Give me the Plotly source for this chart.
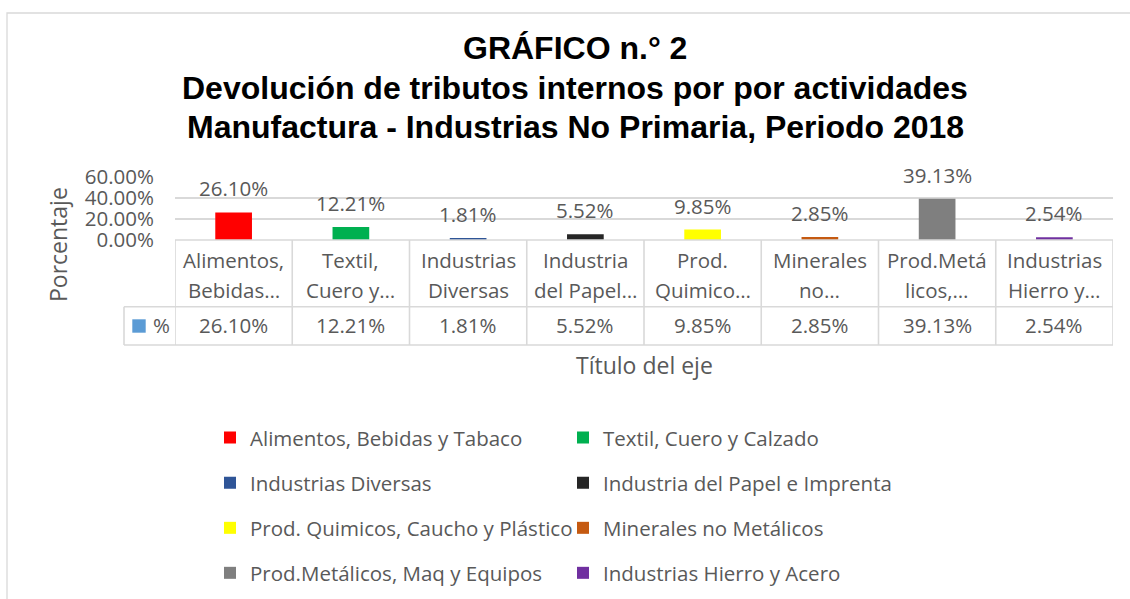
import plotly.graph_objects as go

# ---------------- data ----------------
categories = [
    "Alimentos, Bebidas y Tabaco",
    "Textil, Cuero y Calzado",
    "Industrias Diversas",
    "Industria del Papel e Imprenta",
    "Prod. Quimicos, Caucho y Plástico",
    "Minerales no Metálicos",
    "Prod.Metálicos, Maq y Equipos",
    "Industrias Hierro y Acero",
]
values = [26.10, 12.21, 1.81, 5.52, 9.85, 2.85, 39.13, 2.54]
colors = ["#FF0000", "#00B050", "#2F5597", "#262626", "#FFFF00", "#C55A11", "#7F7F7F", "#7030A0"]
table_line1 = ["Alimentos,", "Textil,", "Industrias", "Industria", "Prod.", "Minerales", "Prod.Metá", "Industrias"]
table_line2 = ["Bebidas…", "Cuero y…", "Diversas", "del Papel…", "Quimico…", "no…", "licos,…", "Hierro y…"]
series_name = "%"
y_ticks = [0, 20, 40, 60]
y_tick_labels = ["0.00%", "20.00%", "40.00%", "60.00%"]

title_lines = ["GRÁFICO n.° 2",
               "Devolución de tributos internos por por actividades",
               "Manufactura - Industrias No Primaria, Periodo 2018"]
x_title = "Título del eje"
y_title = "Porcentaje"

# ---------------- geometry helpers ----------------
W, H = 1130, 599
L, R = 175, 17
PW = W - L - R


def px(X):
    return (X - L) / PW


def py(Y):
    return (H - Y) / H


GRAY = "#595959"
LINE = "#D9D9D9"
FONT = "Open Sans, Noto Sans, sans-serif"
FS = 20.5

fig = go.Figure()
for i, (c, v, col) in enumerate(zip(categories, values, colors)):
    fig.add_trace(go.Bar(
        x=[c], y=[v], name=c, marker=dict(color=col, line=dict(width=0)),
        width=0.313, legend="legend" if i == 0 else f"legend{i + 1}",
        hoverinfo="skip",
    ))

annotations = []
# data labels above bars
for c, v in zip(categories, values):
    annotations.append(dict(x=c, y=v, xref="x", yref="y", text=f"{v:.2f}%", showarrow=False,
                            yanchor="middle", yshift=24, font=dict(family=FONT, size=FS, color=GRAY)))
# data table text
for c, l1, l2, v in zip(categories, table_line1, table_line2, values):
    annotations.append(dict(x=c, y=py(260), xref="x", yref="paper", text=l1, showarrow=False,
                            yanchor="middle", font=dict(family=FONT, size=FS, color=GRAY)))
    annotations.append(dict(x=c, y=py(290), xref="x", yref="paper", text=l2, showarrow=False,
                            yanchor="middle", font=dict(family=FONT, size=FS, color=GRAY)))
    annotations.append(dict(x=c, y=py(325), xref="x", yref="paper", text=f"{v:.2f}%", showarrow=False,
                            yanchor="middle", font=dict(family=FONT, size=FS, color=GRAY)))
annotations.append(dict(x=px(151), y=py(325), xref="paper", yref="paper", text=series_name, showarrow=False,
                        xanchor="left", yanchor="middle", font=dict(family=FONT, size=FS, color=GRAY)))
# title (one annotation per line)
for t, yy in zip(title_lines, [48, 88, 127]):
    annotations.append(dict(x=px(575), y=py(yy), xref="paper", yref="paper", text=f"<b>{t}</b>",
                            showarrow=False, xanchor="center", yanchor="middle",
                            font=dict(family="Liberation Sans, Arial, sans-serif", size=32, color="#000000")))
# axis titles
annotations.append(dict(x=px(644), y=py(365), xref="paper", yref="paper", text=x_title, showarrow=False,
                        xanchor="center", yanchor="middle", font=dict(family=FONT, size=23, color=GRAY)))
annotations.append(dict(x=px(58), y=py(245), xref="paper", yref="paper", text=y_title, showarrow=False,
                        textangle=-90, xanchor="center", yanchor="middle",
                        font=dict(family=FONT, size=23, color=GRAY)))

shapes = []
# chart frame
shapes.append(dict(type="rect", xref="paper", yref="paper", x0=px(7), x1=px(1150), y0=py(620), y1=py(13),
                   line=dict(color=LINE, width=1.3), fillcolor="rgba(0,0,0,0)", layer="below"))
# data table grid
n = len(categories)
tbl_top, tbl_mid, tbl_bot = 240, 306.7, 345
shapes.append(dict(type="line", xref="x", yref="paper", x0=-0.5, x1=n - 0.5, y0=py(tbl_top), y1=py(tbl_top),
                   line=dict(color=LINE, width=1.6)))
for yy in (tbl_mid, tbl_bot):
    shapes.append(dict(type="line", xref="paper", yref="paper", x0=px(124), x1=1.0, y0=py(yy), y1=py(yy),
                       line=dict(color=LINE, width=1.6)))
for k in range(n + 1):
    shapes.append(dict(type="line", xref="x", yref="paper", x0=k - 0.5, x1=k - 0.5, y0=py(tbl_top), y1=py(tbl_bot),
                       line=dict(color=LINE, width=1.6)))
shapes.append(dict(type="line", xref="paper", yref="paper", x0=px(124), x1=px(124), y0=py(tbl_mid), y1=py(tbl_bot),
                   line=dict(color=LINE, width=1.6)))
# series key in table
shapes.append(dict(type="rect", xref="paper", yref="paper", x0=px(132.3), x1=px(145.7), y0=py(332.7), y1=py(319.3),
                   fillcolor="#5B9BD5", line=dict(width=0)))

layout = dict(
    width=W, height=H,
    margin=dict(l=L, r=R, t=0, b=0, autoexpand=False),
    paper_bgcolor="white", plot_bgcolor="white",
    barmode="overlay",
    showlegend=True,
    xaxis=dict(domain=[0, 1], range=[-0.5, n - 0.5], showticklabels=False, showgrid=False,
               zeroline=False, showline=False, ticks="", categoryorder="array", categoryarray=categories,
               fixedrange=True),
    yaxis=dict(domain=[py(240), py(176.7)], range=[0, 60], tickvals=y_ticks, ticktext=y_tick_labels,
               showgrid=True, gridcolor=LINE, gridwidth=1.6, zeroline=False, showline=False, ticks="",
               ticklabelstandoff=20, tickfont=dict(family=FONT, size=FS, color=GRAY), automargin=False,
               fixedrange=True),
    annotations=annotations,
    shapes=shapes,
)

row_y = [437.7, 482.8, 528, 573]
col_x = [210, 563]
for i in range(n):
    key = "legend" if i == 0 else f"legend{i + 1}"
    layout[key] = dict(x=px(col_x[i % 2]), y=py(row_y[i // 2]), xanchor="left", yanchor="middle",
                       orientation="h", bgcolor="rgba(0,0,0,0)", borderwidth=0,
                       font=dict(family=FONT, size=FS, color=GRAY))

fig.update_layout(**layout)
fig.write_html("out.html", config={"displayModeBar": False},
               post_script="document.body.style.margin='0';document.body.style.overflow='hidden';")
